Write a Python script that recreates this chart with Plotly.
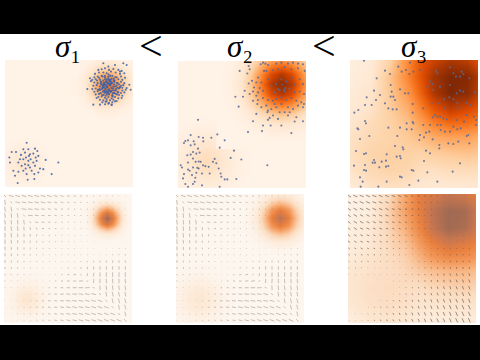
import plotly.graph_objects as go

titles = ["<i>σ</i>₁", "<i>σ</i>₂", "<i>σ</i>₃"]
relation = "&lt;"

oranges = [[0, "#fff3e8"], [.125, "#fee6ce"], [.25, "#fdd0a2"], [.375, "#fdae6b"], [.5, "#fd8d3c"],
           [.625, "#f16913"], [.75, "#d94801"], [.875, "#a63603"], [1, "#7f2704"]]
faded = [[0, "#fdf6ef"], [.12, "#fdebd9"], [.25, "#fbdcc0"], [.4, "#f9bb8c"], [.55, "#f39a5c"],
         [.7, "#e87f3e"], [.85, "#c87650"], [1, "#a06a52"]]

blank_x = [0, 384]
blank_y = [0, 384]
blank_z = [[0, 0], [0, 0]]

# density: one patch per bright spot
top1a_x = [-31, -9, 13, 35, 57, 79, 101, 123, 145]
top1a_y = [221, 243, 265, 287, 309, 331, 353, 375, 397]
top1a_z = [
 [0, 0, 0, 0, .004, 0, 0, 0, 0],
 [0, 0, .01, .015, .019, .015, .01, 0, 0],
 [0, .01, .023, .046, .057, .046, .023, .01, 0],
 [.003, .015, .046, .09, .112, .09, .046, .015, .003],
 [.004, .019, .057, .112, .14, .112, .057, .019, .004],
 [.003, .015, .046, .09, .112, .09, .046, .015, .003],
 [0, .01, .023, .046, .057, .046, .023, .01, 0],
 [0, 0, .01, .015, .019, .015, .01, 0, 0],
 [0, 0, 0, 0, .004, 0, 0, 0, 0],
]
top1b_x = [213, 237, 261, 285, 309, 333, 357, 381, 405]
top1b_y = [-21, 3, 27, 51, 75, 99, 123, 147, 171]
top1b_z = [
 [0, 0, 0, .014, .018, .014, 0, 0, 0],
 [0, .01, .03, .065, .08, .065, .03, .01, 0],
 [.005, .03, .10, .20, .25, .20, .10, .03, .005],
 [.014, .065, .20, .38, .48, .38, .20, .065, .014],
 [.018, .08, .25, .48, .60, .48, .25, .08, .018],
 [.014, .065, .20, .38, .48, .38, .20, .065, .014],
 [.005, .03, .10, .20, .25, .20, .10, .03, .005],
 [0, .01, .03, .065, .08, .065, .03, .01, 0],
 [0, 0, 0, .014, .018, .014, 0, 0, 0],
]
top2a_x = [-35, -5, 25, 55, 85, 115, 145, 175, 205]
top2a_y = [180, 210, 240, 270, 300, 330, 360, 390, 420]
top2a_z = [
 [0, 0, .01, .01, .016, .01, .01, 0, 0],
 [0, .01, .03, .04, .047, .04, .03, .01, 0],
 [.01, .03, .055, .086, .10, .086, .055, .03, .01],
 [.014, .04, .085, .133, .155, .133, .085, .04, .014],
 [.016, .047, .10, .155, .18, .155, .10, .047, .016],
 [.014, .04, .085, .133, .155, .133, .085, .04, .014],
 [.01, .03, .055, .086, .10, .086, .055, .03, .01],
 [0, .01, .03, .04, .047, .04, .03, .01, 0],
 [0, 0, .01, .01, .016, .01, .01, 0, 0],
]
top2b_x = [130, 160, 190, 220, 250, 280, 310, 340, 370, 400]
top2b_y = [-20, 10, 40, 70, 100, 130, 160, 190, 220, 250]
top2b_z = [
 [0, .01, .04, .10, .18, .26, .30, .26, .18, .10],
 [.01, .02, .08, .19, .35, .51, .58, .51, .35, .19],
 [.01, .03, .11, .27, .51, .74, .84, .74, .51, .27],
 [.01, .04, .13, .30, .58, .84, .95, .84, .58, .30],
 [.01, .03, .11, .27, .51, .74, .84, .74, .51, .27],
 [.01, .02, .08, .19, .35, .51, .58, .51, .35, .19],
 [0, .01, .04, .10, .18, .26, .30, .26, .18, .10],
 [0, .01, .02, .04, .08, .11, .13, .11, .08, .04],
 [0, 0, .01, .01, .02, .04, .04, .04, .02, .01],
 [0, 0, 0, 0, 0, 0, 0, 0, 0, 0],
]
broad_x = [0, 60, 120, 170, 210, 250, 300, 350, 384]
broad_y = [0, 50, 100, 150, 190, 230, 280, 330, 384]
broad_z = [
 [.05, .08, .24, .50, .70, .78, .86, .82, .72],
 [.06, .10, .30, .52, .70, .88, 1.0, .98, .85],
 [.08, .13, .28, .45, .64, .85, 1.0, .95, .82],
 [.10, .14, .26, .36, .52, .68, .80, .74, .68],
 [.12, .18, .24, .30, .42, .54, .62, .60, .55],
 [.15, .20, .23, .27, .32, .38, .42, .42, .38],
 [.16, .22, .25, .24, .23, .26, .28, .30, .28],
 [.14, .20, .23, .21, .17, .16, .18, .18, .18],
 [.08, .14, .16, .14, .11, .09, .09, .10, .10],
]
# density
low1a_x = [-11, 9, 29, 49, 69, 89, 109, 129, 149]
low1a_y = [232, 252, 272, 292, 312, 332, 352, 372, 392]
low1a_z = [
 [0, 0, 0, 0, .005, 0, 0, 0, 0],
 [0, 0, .01, .02, .023, .02, .01, 0, 0],
 [0, .01, .03, .056, .07, .056, .03, .01, 0],
 [.004, .02, .056, .11, .136, .11, .056, .02, .004],
 [.005, .023, .07, .136, .17, .136, .07, .023, .005],
 [.004, .02, .056, .11, .136, .11, .056, .02, .004],
 [0, .01, .03, .056, .07, .056, .03, .01, 0],
 [0, 0, .01, .02, .023, .02, .01, 0, 0],
 [0, 0, 0, 0, .005, 0, 0, 0, 0],
]
low1b_x = [245, 261, 277, 293, 309, 325, 341, 357, 373]
low1b_y = [8, 24, 40, 56, 72, 88, 104, 120, 136]
low1b_z = [
 [0, 0, .01, .02, .03, .02, .01, 0, 0],
 [0, .02, .06, .11, .135, .11, .06, .02, 0],
 [.01, .06, .17, .33, .41, .33, .17, .06, .01],
 [.02, .11, .33, .64, .80, .64, .33, .11, .02],
 [.03, .135, .41, .80, 1.0, .80, .41, .135, .03],
 [.02, .11, .33, .64, .80, .64, .33, .11, .02],
 [.01, .06, .17, .33, .41, .33, .17, .06, .01],
 [0, .02, .06, .11, .135, .11, .06, .02, 0],
 [0, 0, .01, .02, .03, .02, .01, 0, 0],
]
low2a_x = [-43, -15, 13, 41, 69, 97, 125, 153, 181]
low2a_y = [200, 228, 256, 284, 312, 340, 368, 396, 424]
low2a_z = [
 [0, 0, 0, 0, .005, 0, 0, 0, 0],
 [0, 0, .01, .016, .02, .016, .01, 0, 0],
 [0, .01, .027, .05, .066, .05, .027, .01, 0],
 [.004, .016, .05, .10, .128, .10, .05, .016, .004],
 [.005, .02, .066, .128, .16, .128, .066, .02, .005],
 [.004, .016, .05, .10, .128, .10, .05, .016, .004],
 [0, .01, .027, .05, .066, .05, .027, .01, 0],
 [0, 0, .01, .016, .02, .016, .01, 0, 0],
 [0, 0, 0, 0, .005, 0, 0, 0, 0],
]
low2b_x = [216, 240, 264, 288, 312, 336, 360, 384, 408]
low2b_y = [-24, 0, 24, 48, 72, 96, 120, 144, 168]
low2b_z = [
 [0, 0, .01, .02, .027, .02, .01, 0, 0],
 [0, .02, .05, .10, .12, .10, .05, .02, 0],
 [.01, .05, .15, .30, .37, .30, .15, .05, .01],
 [.02, .10, .30, .58, .72, .58, .30, .10, .02],
 [.027, .12, .37, .72, .90, .72, .37, .12, .027],
 [.02, .10, .30, .58, .72, .58, .30, .10, .02],
 [.01, .05, .15, .30, .37, .30, .15, .05, .01],
 [0, .02, .05, .10, .12, .10, .05, .02, 0],
 [0, 0, .01, .02, .027, .02, .01, 0, 0],
]

# samples in the upper row
pts1_x = [295,355,365,330,310,280,345,255,247,373,377,365,265,285,320,330,350,275,305,
 290,300,312,325,340,350,270,282,295,305,318,332,345,358,268,278,290,300,310,322,335,348,360,262,272,
 285,295,305,315,328,340,352,258,268,278,288,298,308,318,328,338,348,358,265,275,285,295,305,315,325,335,345,355,
 262,272,282,292,302,312,322,332,342,352,362,268,278,288,298,308,318,328,338,348,358,272,282,292,302,312,322,332,342,352,
 280,290,300,310,320,330,340,285,295,305,315,325,335,292,302,312,322,300,310,320,303,313,307,317,296,328,284,344,
 300,305,310,315,320,296,302,308,314,320,326,292,298,304,310,316,322,328,295,301,307,313,319,325,297,303,309,315,321,
 299,306,312,318,324,290,294,330,334,288,332,300,316,306,322,311,286,336,294,326,
 282,293,304,317,331,342,276,287,298,311,326,338,348,279,291,303,314,327,340,352,283,296,309,323,336,
 65,20,33,55,70,90,97,13,60,48,75,85,100,122,160,140,40,55,63,70,77,85,92,60,70,50,75,90,105,115,25,40,55,65,30,88,100,68,88,38,15,80,45,72,62,95]
pts1_y = [10,10,15,15,20,30,35,55,88,75,90,85,135,135,135,125,115,115,125,
 28,25,30,27,30,33,42,38,38,40,35,38,42,40,52,50,48,52,50,48,52,50,54,60,58,
 60,62,58,60,62,58,60,64,68,70,66,70,68,72,66,70,66,70,78,76,80,78,82,76,80,78,82,76,
 88,86,90,84,88,92,86,90,86,92,90,96,94,100,94,98,94,100,96,100,98,104,102,106,108,104,108,102,106,108,
 112,110,114,112,116,112,116,120,122,118,122,120,124,128,126,130,128,134,132,136,74,72,80,68,76,62,88,84,
 58,62,55,60,57,68,66,70,64,68,62,76,74,78,72,76,70,74,84,86,82,88,84,86,92,94,90,95,92,
 100,98,102,97,100,72,82,80,86,66,92,48,48,104,106,44,90,70,96,100,
 54,50,66,64,52,74,62,72,82,60,56,84,78,90,88,98,74,92,98,84,102,106,96,110,104,
 250,278,278,270,270,268,275,295,280,287,285,283,290,302,310,345,310,300,295,305,300,310,295,315,318,320,325,320,328,330,335,338,335,345,350,345,340,362,360,372,310,335,300,290,328,305]
pts2_x = [185,212,215,208,222,212,228,200,215,195,172,182,225,238,235,225,255,210,252,310,340,350,375,278,
 248,255,262,270,295,310,330,345,360,375,265,258,285,300,320,340,360,380,235,250,245,240,255,225,235,270,280,295,310,325,345,365,350,375,
 290,305,320,335,350,365,378,255,270,285,295,310,325,340,355,370,378,240,265,250,270,280,295,310,330,345,360,375,285,305,320,335,355,270,275,330,300,318,322,300,312,268,290,240,
 60,118,38,62,75,100,76,140,22,30,47,18,38,50,125,60,168,45,55,28,38,65,158,190,45,110,53,30,62,68,105,115,8,12,45,58,75,82,92,122,268,30,62,35,72,95,128,18,42,55,15,52,130,140,148,175,50,22,45,72,30,125]
pts2_y = [30,15,25,38,60,68,80,90,100,108,108,138,120,130,160,182,195,215,212,195,218,183,182,195,
 10,5,8,12,8,5,8,5,8,10,30,30,28,25,18,25,22,30,65,65,82,95,90,92,105,55,75,70,55,62,50,55,72,70,
 95,88,92,85,95,92,100,112,118,120,115,110,118,112,120,125,130,118,135,140,150,145,140,130,140,145,135,140,165,155,155,155,170,178,172,165,175,88,82,85,72,155,130,50,
 178,222,224,230,232,232,243,240,242,240,243,248,255,252,262,265,271,275,280,285,283,277,293,298,295,296,305,307,304,305,305,309,315,322,322,323,315,318,320,325,315,328,325,332,340,340,340,342,345,338,355,353,350,358,358,357,365,372,372,376,380,380]
pts3_x = [42,180,145,105,168,190,210,120,155,80,178,72,122,90,125,130,150,165,175,50,78,122,135,45,65,105,115,128,140,188,25,13,188,45,188,190,170,22,25,48,115,150,170,185,58,30,142,135,158,160,18,48,42,228,240,72,108,95,68,75,110,140,150,152,12,45,88,108,115,42,48,222,330,185,190,232,308,150,155,30,38,110,205,262,32,85,178,
 240,232,248,250,270,262,258,300,310,335,340,318,330,358,300,330,340,320,375,282,298,310,322,350,362,268,285,255,262,248,220,270,328,350,372,240,262,272,220,285,300,322,332,228,238,210,222,248,295,310,325,358,350,272,268,268,208,355,310,290,320,342,378,378,245,280]
pts3_y = [2,8,20,32,30,35,30,42,35,55,42,92,75,105,95,110,88,100,100,112,120,110,120,135,135,130,145,148,148,132,150,158,158,183,186,190,190,205,208,190,203,203,208,208,228,237,228,258,262,268,273,280,282,272,280,300,302,305,308,308,283,290,288,295,317,315,322,320,318,330,332,303,310,330,332,337,335,350,352,352,365,365,362,365,380,380,375,
 65,80,72,90,80,40,32,22,40,35,42,50,50,55,75,92,95,100,98,118,112,118,128,128,135,130,145,165,170,172,145,170,145,165,170,195,195,195,195,215,215,208,205,218,215,225,232,238,250,252,245,250,228,210,255,265,240,225,200,178,180,185,195,180,130,175]

# arrow components, one row per grid row
field_dx = [
 [6,14,14,14,14,14,14,14,11,9,8,6,5,4,3,3,2,2,1,1],
 [2,5,14,14,14,14,14,11,9,8,6,5,4,3,3,2,2,1,1,1],
 [2,2,5,14,14,14,11,9,8,6,5,4,3,3,2,2,1,1,1,1],
 [2,1,2,5,14,11,9,8,6,5,4,3,3,2,2,1,1,1,1,1],
 [2,1,1,2,4,9,8,6,5,4,3,3,2,2,1,1,1,0,0,0],
 [1,1,1,1,1,3,6,5,4,3,3,2,2,1,1,1,0,0,0,0],
 [1,1,1,0,0,0,2,4,3,3,2,2,1,1,1,0,0,0,0,0],
 [1,1,0,0,0,0,0,1,3,3,2,2,1,1,1,0,0,0,0,0],
 [1,0,0,0,0,0,0,1,2,2,2,2,1,1,1,0,0,0,0,0],
 [0,0,0,0,0,0,1,1,1,2,2,2,2,1,1,0,0,0,0,0],
 [0,0,0,0,0,1,1,1,2,2,2,2,1,1,0,0,0,0,0,0],
 [0,0,0,1,1,1,1,1,1,2,4,3,1,1,0,0,0,0,0,0],
 [1,1,1,1,1,1,1,1,2,4,6,8,4,1,1,0,0,0,0,0],
 [1,1,1,1,1,1,1,2,4,6,8,10,12,5,1,1,1,1,1,1],
 [1,1,1,1,1,1,2,4,6,8,10,12,14,14,6,1,1,2,2,2],
 [1,1,1,1,1,2,4,6,8,10,12,14,14,14,14,6,2,3,3,3],
 [1,1,1,1,2,4,6,8,10,12,14,14,14,14,14,14,6,3,3,4],
 [1,1,1,2,3,5,6,8,10,12,14,14,14,14,14,14,14,6,3,4],
 [1,1,2,2,3,4,5,7,9,11,13,14,14,14,14,14,14,14,6,3],
 [1,1,1,2,2,3,4,5,7,9,11,13,14,14,14,14,14,14,14,7],
]
field_dy = [
 [6,4,4,4,4,4,4,4,3,3,2,2,1,1,1,1,1,0,0,0],
 [14,5,3,3,3,3,3,2,2,2,1,1,1,1,1,0,0,0,0,0],
 [14,14,5,2,2,2,2,2,1,1,1,1,1,0,0,0,0,0,0,0],
 [14,14,14,5,1,1,1,1,1,1,0,0,0,0,0,0,0,0,0,0],
 [14,14,14,14,5,1,0,0,0,0,0,0,0,0,0,0,0,0,0,0],
 [14,14,14,11,9,6,0,0,0,-1,-1,-1,0,0,0,0,0,0,0,0],
 [14,14,11,9,8,6,3,-2,-2,-2,-1,-1,-1,0,0,0,0,0,0,0],
 [14,11,9,8,6,5,4,3,-2,-2,-2,-1,-1,-1,-1,0,0,0,0,1],
 [11,9,8,6,5,4,3,3,2,-2,-2,-2,-1,-1,-1,0,1,1,2,2],
 [9,8,6,5,4,3,3,2,2,-2,-2,-2,-2,-2,-1,1,2,3,3,4],
 [8,6,5,4,3,3,2,2,-1,-2,-2,-2,-3,-4,-5,-6,-6,-7,-7,-7],
 [6,5,4,3,3,2,2,-1,-1,-2,-2,-3,-5,-7,-9,-10,-10,-10,-10,-10],
 [4,3,3,2,2,1,1,0,0,-1,-1,-2,-3,-8,-11,-13,-14,-14,-14,-14],
 [3,2,2,1,1,1,1,0,0,0,0,-1,-1,-5,-12,-14,14,14,14,14],
 [2,2,1,1,1,1,1,0,0,0,0,0,0,-1,2,14,14,14,14,14],
 [1,1,1,1,1,1,0,0,0,0,1,1,2,2,3,5,14,14,14,14],
 [1,1,1,1,1,1,1,1,1,1,2,2,2,3,3,4,6,14,14,14],
 [1,1,1,1,1,1,1,1,1,2,2,3,3,3,4,4,5,6,14,14],
 [0,0,0,1,1,1,1,1,2,2,3,3,3,4,4,4,5,5,6,14],
 [0,0,0,0,1,1,1,1,2,2,3,3,4,4,4,5,5,5,6,7],
]
broad_dx = [
 [12,12,12,12,12,11,11,10,9,8,6,5,4,3,2,1,1,0,0,0],
 [12,12,12,12,11,11,10,9,8,7,6,4,3,2,2,1,0,0,0,0],
 [11,11,11,11,11,10,9,9,8,6,5,4,3,2,1,1,0,0,0,0],
 [10,10,10,10,10,9,9,8,7,6,4,3,2,2,1,0,0,0,0,0],
 [9,10,10,9,9,9,8,7,6,5,4,3,2,1,1,0,0,0,0,0],
 [8,9,9,9,8,8,7,6,5,4,3,2,2,1,1,0,0,0,0,0],
 [7,8,8,8,7,7,6,5,4,3,3,2,1,1,0,0,0,0,0,0],
 [6,7,7,7,6,5,5,4,3,3,2,1,1,1,0,0,0,0,0,0],
 [5,5,6,5,5,4,4,3,3,2,2,1,1,0,0,0,0,0,0,0],
 [4,4,4,4,4,3,3,2,2,2,1,1,1,0,0,0,0,0,0,0],
 [3,3,3,3,2,2,2,2,1,1,1,1,0,0,0,0,0,0,0,0],
 [2,2,2,1,1,1,1,1,1,1,1,0,0,0,0,0,0,0,0,0],
 [1,1,1,1,1,1,1,1,0,0,0,0,0,0,1,1,2,2,3,3],
 [0,0,0,0,0,0,0,0,0,0,0,1,1,1,2,2,3,3,3,4],
 [0,0,0,0,0,0,0,0,0,1,1,1,2,2,2,3,3,4,4,4],
 [0,0,0,0,0,0,0,1,1,1,2,2,2,3,3,3,4,4,4,5],
 [0,0,0,0,0,1,1,1,2,2,2,3,3,3,4,4,4,5,5,5],
 [0,0,0,1,1,1,2,2,2,3,3,3,4,4,4,5,5,5,5,6],
 [0,1,1,1,1,2,2,2,3,3,3,4,4,4,5,5,5,6,6,6],
 [1,1,1,1,2,2,2,3,3,3,4,4,4,5,5,5,5,6,6,6],
]
broad_dy = [
 [6,5,5,5,4,4,4,3,3,3,2,2,1,1,1,0,0,0,0,0],
 [6,5,5,5,4,4,4,3,3,2,2,2,1,1,0,0,0,0,0,0],
 [7,6,5,5,5,4,4,3,3,2,2,1,1,1,0,0,0,0,0,0],
 [7,6,5,5,4,4,3,3,2,2,1,1,1,0,0,0,0,0,0,0],
 [7,6,5,4,4,3,3,2,2,2,1,1,0,0,0,0,0,0,0,0],
 [7,6,4,4,3,3,2,2,2,1,1,0,0,0,0,0,0,0,0,0],
 [6,5,4,3,3,2,2,2,1,1,0,0,0,-1,-1,-1,-1,-1,-1,-1],
 [5,4,3,3,2,2,1,1,1,0,0,-1,-1,-1,-1,-1,-1,-1,-1,-1],
 [4,3,3,2,2,1,1,1,0,0,-1,-1,-1,-1,-2,-2,-2,-2,-2,-2],
 [3,3,2,2,1,1,1,0,0,-1,-1,-1,-2,-2,-2,-2,-3,-3,-3,-3],
 [2,2,2,1,1,1,0,0,-1,-1,-1,-2,-2,-3,-3,-3,-4,-4,-4,-4],
 [1,1,1,1,1,0,0,-1,-1,-1,-2,-2,-3,-3,-4,-5,-5,-5,-5,-5],
 [1,1,1,0,0,0,0,-1,-1,-2,-2,-3,-3,-4,5,6,6,7,7,8],
 [0,0,0,0,0,0,0,-1,-1,-2,-2,3,4,5,6,7,8,8,9,9],
 [0,0,0,0,0,0,0,0,-1,2,3,4,5,6,7,8,9,9,10,10],
 [0,0,0,0,0,0,0,1,2,3,4,5,6,7,8,9,10,10,11,11],
 [0,0,0,0,0,1,2,3,4,5,6,7,8,9,10,10,11,11,12,12],
 [0,0,0,1,2,3,3,4,5,6,7,8,9,10,10,11,12,12,12,13],
 [0,1,1,2,3,3,4,5,6,7,8,9,10,10,11,11,12,13,13,13],
 [1,1,1,2,3,4,5,5,6,7,8,9,10,10,11,11,12,13,13,13],
]
grid_x = [3,22,41,60,79,98,117,136,155,174,193,212,231,250,269,288,307,326,345,364]
grid_y = [6,25,45,64,84,103,123,142,162,181,201,220,240,259,279,298,318,337,357,376]

W, H = 480, 360
frames = [(5, 60, 133, 187), (178, 61, 306, 188), (350, 60, 478, 188),
          (4, 194, 132, 323), (176, 194, 304, 323), (348, 194, 476, 323)]

fig = go.Figure()
layout = dict(width=W, height=H, margin=dict(l=0, r=0, t=0, b=0), showlegend=False,
              paper_bgcolor="white", plot_bgcolor="white")


def add_density(i, x, y, z, scale):
    fig.add_trace(go.Heatmap(x=x, y=y, z=z, zmin=0, zmax=1, colorscale=scale, zsmooth="best",
                             showscale=False, hoverinfo="skip", xaxis=f"x{i+1}", yaxis=f"y{i+1}"))


def add_points(i, x, y, color):
    fig.add_trace(go.Scatter(x=x, y=y, mode="markers", hoverinfo="skip",
                             marker=dict(size=2.1, color=color, opacity=.85, line_width=0),
                             xaxis=f"x{i+1}", yaxis=f"y{i+1}"))


def add_arrows(i, dx, dy, color):
    xs, ys = [], []
    for r, gy in enumerate(grid_y):
        for c, gx in enumerate(grid_x):
            xs += [gx - dx[r][c] / 2, gx + dx[r][c] / 2, None]
            ys += [gy - dy[r][c] / 2, gy + dy[r][c] / 2, None]
    fig.add_trace(go.Scatter(x=xs, y=ys, mode="lines", hoverinfo="skip",
                             line=dict(color=color, width=.9),
                             xaxis=f"x{i+1}", yaxis=f"y{i+1}"))


for i in range(6):
    add_density(i, blank_x, blank_y, blank_z, oranges if i < 3 else faded)
add_density(0, top1a_x, top1a_y, top1a_z, oranges)
add_density(0, top1b_x, top1b_y, top1b_z, oranges)
add_density(1, top2a_x, top2a_y, top2a_z, oranges)
add_density(1, top2b_x, top2b_y, top2b_z, oranges)
add_density(2, broad_x, broad_y, broad_z, oranges)
add_density(3, low1a_x, low1a_y, low1a_z, faded)
add_density(3, low1b_x, low1b_y, low1b_z, faded)
add_density(4, low2a_x, low2a_y, low2a_z, faded)
add_density(4, low2b_x, low2b_y, low2b_z, faded)
add_density(5, broad_x, broad_y, broad_z, faded)
add_points(0, pts1_x, pts1_y, "#3d62a8")
add_points(1, pts2_x, pts2_y, "#56689a")
add_points(2, pts3_x, pts3_y, "#56689a")
add_arrows(3, field_dx, field_dy, "rgba(105,100,95,.42)")
add_arrows(4, field_dx, field_dy, "rgba(105,100,95,.42)")
add_arrows(5, broad_dx, broad_dy, "rgba(75,65,60,.62)")

for i, (x0, y0, x1, y1) in enumerate(frames):
    suffix = "" if i == 0 else str(i + 1)
    layout["xaxis" + suffix] = dict(domain=[x0 / W, x1 / W], range=[0, 384], visible=False,
                                    anchor="y" + suffix, fixedrange=True)
    layout["yaxis" + suffix] = dict(domain=[1 - y1 / H, 1 - y0 / H], range=[384, 0], visible=False,
                                    anchor="x" + suffix, fixedrange=True)

layout["shapes"] = [
    dict(type="rect", xref="paper", yref="paper", x0=0, x1=1, y0=1 - 34 / H, y1=1,
         fillcolor="black", line_width=0, layer="above"),
    dict(type="rect", xref="paper", yref="paper", x0=0, x1=1, y0=0, y1=1 - 325 / H,
         fillcolor="black", line_width=0, layer="above"),
]
ann = []
for text, px in zip(titles, (68, 240, 414)):
    ann.append(dict(text=text, x=px / W, y=1 - 47 / H, xref="paper", yref="paper", showarrow=False,
                    xanchor="center", yanchor="middle",
                    font=dict(family="Liberation Serif", size=31, color="black")))
for px in (151, 324):
    ann.append(dict(text=relation, x=px / W, y=1 - 46 / H, xref="paper", yref="paper", showarrow=False,
                    xanchor="center", yanchor="middle",
                    font=dict(family="Liberation Serif", size=42, color="black")))
layout["annotations"] = ann
fig.update_layout(**layout)
fig.write_html("out.html", config={"displayModeBar": False},
               post_script="document.body.style.margin='0';")
